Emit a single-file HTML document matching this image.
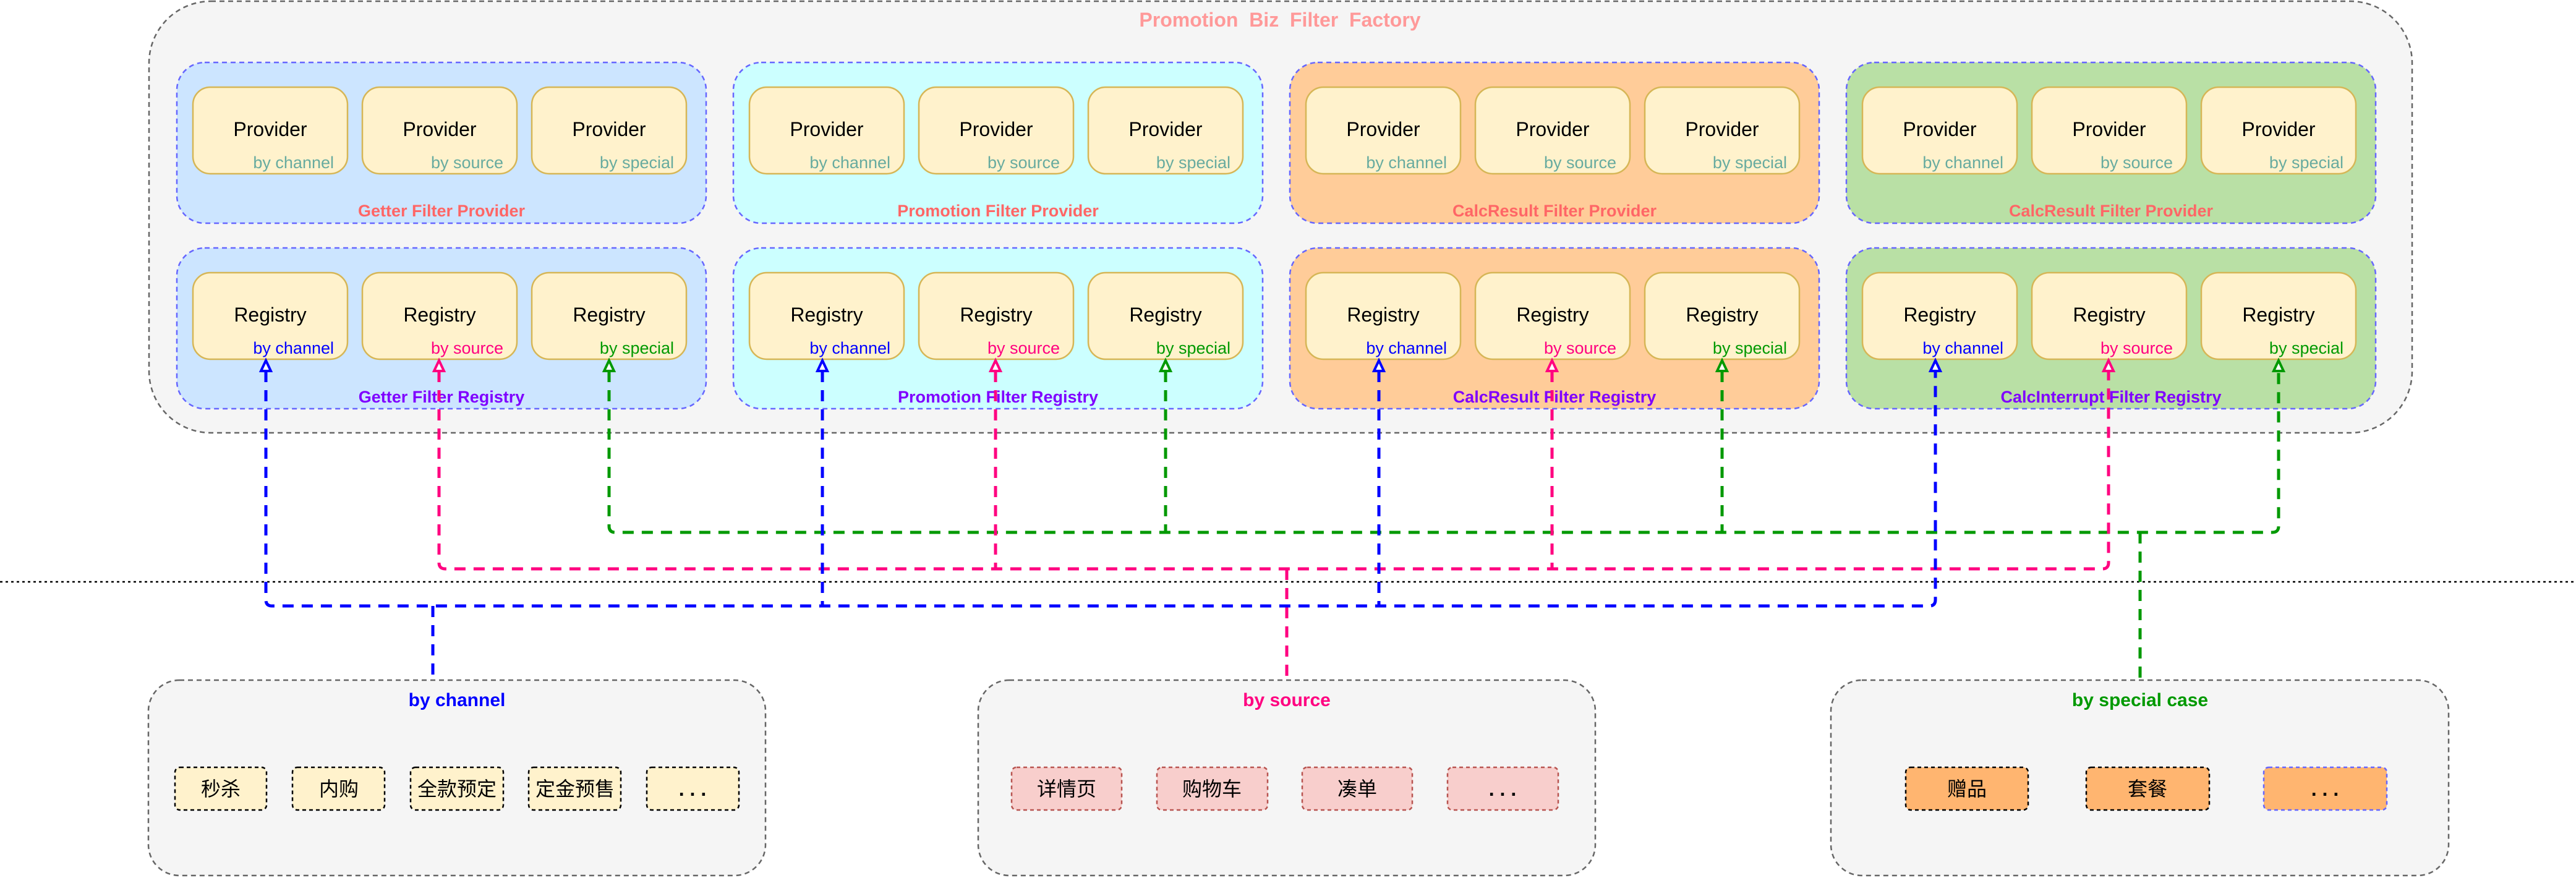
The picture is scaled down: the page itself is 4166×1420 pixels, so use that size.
<!DOCTYPE html>
<html><head><meta charset="utf-8"><style>
html,body{margin:0;padding:0;background:#fff;}
svg{display:block;}
text{font-family:"Liberation Sans","Noto Sans CJK SC",sans-serif;}
.m{font-size:32px;fill:#000;text-anchor:middle;}
.bp{font-size:27px;fill:#67AB9F;text-anchor:end;}
.gl{font-size:27px;font-weight:bold;text-anchor:middle;}
.box{fill:#fff2cc;stroke:#d6b656;stroke-width:2.5;}
.grp{stroke:#6666ff;stroke-width:2.5;stroke-dasharray:8 6;}
.cj{font-size:32px;fill:#000;text-anchor:middle;}
</style></head><body>
<svg width="4166" height="1420" viewBox="0 0 4166 1420" xmlns="http://www.w3.org/2000/svg">
<rect x="241" y="2" width="3660" height="698" rx="100" fill="#f5f5f5" stroke="#666" stroke-width="2.5" stroke-dasharray="8 6"/>
<text x="2070" y="43" font-size="32" font-weight="bold" fill="#ff9999" text-anchor="middle" xml:space="preserve">Promotion  Biz  Filter  Factory</text>

<rect class="grp" x="286" y="101" width="856" height="260" rx="45" fill="#cce5ff"/>
<rect class="grp" x="286" y="401" width="856" height="260" rx="45" fill="#cce5ff"/>
<rect class="grp" x="1186" y="101" width="856" height="260" rx="45" fill="#ccffff"/>
<rect class="grp" x="1186" y="401" width="856" height="260" rx="45" fill="#ccffff"/>
<rect class="grp" x="2086" y="101" width="856" height="260" rx="45" fill="#ffcc99"/>
<rect class="grp" x="2086" y="401" width="856" height="260" rx="45" fill="#ffcc99"/>
<rect class="grp" x="2986" y="101" width="856" height="260" rx="45" fill="#b9e0a5"/>
<rect class="grp" x="2986" y="401" width="856" height="260" rx="45" fill="#b9e0a5"/>

<g>
<rect class="box" x="312" y="141" width="250" height="140" rx="28"/><rect class="box" x="586" y="141" width="250" height="140" rx="28"/><rect class="box" x="860" y="141" width="250" height="140" rx="28"/>
<rect class="box" x="1212" y="141" width="250" height="140" rx="28"/><rect class="box" x="1486" y="141" width="250" height="140" rx="28"/><rect class="box" x="1760" y="141" width="250" height="140" rx="28"/>
<rect class="box" x="2112" y="141" width="250" height="140" rx="28"/><rect class="box" x="2386" y="141" width="250" height="140" rx="28"/><rect class="box" x="2660" y="141" width="250" height="140" rx="28"/>
<rect class="box" x="3012" y="141" width="250" height="140" rx="28"/><rect class="box" x="3286" y="141" width="250" height="140" rx="28"/><rect class="box" x="3560" y="141" width="250" height="140" rx="28"/>
</g>
<g>
<rect class="box" x="312" y="441" width="250" height="140" rx="28"/><rect class="box" x="586" y="441" width="250" height="140" rx="28"/><rect class="box" x="860" y="441" width="250" height="140" rx="28"/>
<rect class="box" x="1212" y="441" width="250" height="140" rx="28"/><rect class="box" x="1486" y="441" width="250" height="140" rx="28"/><rect class="box" x="1760" y="441" width="250" height="140" rx="28"/>
<rect class="box" x="2112" y="441" width="250" height="140" rx="28"/><rect class="box" x="2386" y="441" width="250" height="140" rx="28"/><rect class="box" x="2660" y="441" width="250" height="140" rx="28"/>
<rect class="box" x="3012" y="441" width="250" height="140" rx="28"/><rect class="box" x="3286" y="441" width="250" height="140" rx="28"/><rect class="box" x="3560" y="441" width="250" height="140" rx="28"/>
</g>

<g class="m">
<text class="m" x="437" y="220">Provider</text><text class="m" x="711" y="220">Provider</text><text class="m" x="985" y="220">Provider</text>
<text class="m" x="1337" y="220">Provider</text><text class="m" x="1611" y="220">Provider</text><text class="m" x="1885" y="220">Provider</text>
<text class="m" x="2237" y="220">Provider</text><text class="m" x="2511" y="220">Provider</text><text class="m" x="2785" y="220">Provider</text>
<text class="m" x="3137" y="220">Provider</text><text class="m" x="3411" y="220">Provider</text><text class="m" x="3685" y="220">Provider</text>
<text class="m" x="437" y="520">Registry</text><text class="m" x="711" y="520">Registry</text><text class="m" x="985" y="520">Registry</text>
<text class="m" x="1337" y="520">Registry</text><text class="m" x="1611" y="520">Registry</text><text class="m" x="1885" y="520">Registry</text>
<text class="m" x="2237" y="520">Registry</text><text class="m" x="2511" y="520">Registry</text><text class="m" x="2785" y="520">Registry</text>
<text class="m" x="3137" y="520">Registry</text><text class="m" x="3411" y="520">Registry</text><text class="m" x="3685" y="520">Registry</text>
</g>
<g>
<text class="bp" x="540" y="272">by channel</text><text class="bp" x="814" y="272">by source</text><text class="bp" x="1090" y="272">by special</text>
<text class="bp" x="1440" y="272">by channel</text><text class="bp" x="1714" y="272">by source</text><text class="bp" x="1990" y="272">by special</text>
<text class="bp" x="2340" y="272">by channel</text><text class="bp" x="2614" y="272">by source</text><text class="bp" x="2890" y="272">by special</text>
<text class="bp" x="3240" y="272">by channel</text><text class="bp" x="3514" y="272">by source</text><text class="bp" x="3790" y="272">by special</text>
<text class="bp" x="540" y="572" style="fill:#0000ff">by channel</text><text class="bp" x="814" y="572" style="fill:#ff0080">by source</text><text class="bp" x="1090" y="572" style="fill:#009900">by special</text>
<text class="bp" x="1440" y="572" style="fill:#0000ff">by channel</text><text class="bp" x="1714" y="572" style="fill:#ff0080">by source</text><text class="bp" x="1990" y="572" style="fill:#009900">by special</text>
<text class="bp" x="2340" y="572" style="fill:#0000ff">by channel</text><text class="bp" x="2614" y="572" style="fill:#ff0080">by source</text><text class="bp" x="2890" y="572" style="fill:#009900">by special</text>
<text class="bp" x="3240" y="572" style="fill:#0000ff">by channel</text><text class="bp" x="3514" y="572" style="fill:#ff0080">by source</text><text class="bp" x="3790" y="572" style="fill:#009900">by special</text>
</g>
<g>
<text class="gl" x="714" y="350" fill="#ff6666">Getter Filter Provider</text>
<text class="gl" x="1614" y="350" fill="#ff6666">Promotion Filter Provider</text>
<text class="gl" x="2514" y="350" fill="#ff6666">CalcResult Filter Provider</text>
<text class="gl" x="3414" y="350" fill="#ff6666">CalcResult Filter Provider</text>
<text class="gl" x="714" y="651" fill="#7f00ff">Getter Filter Registry</text>
<text class="gl" x="1614" y="651" fill="#7f00ff">Promotion Filter Registry</text>
<text class="gl" x="2514" y="651" fill="#7f00ff">CalcResult Filter Registry</text>
<text class="gl" x="3414" y="651" fill="#7f00ff">CalcInterrupt Filter Registry</text>
</g>

<line x1="0" y1="941" x2="4166" y2="941" stroke="#000" stroke-width="2.5" stroke-dasharray="4 5"/>

<g fill="none" stroke-width="5" stroke-dasharray="18 13">
<path stroke="#009900" d="M985 600 V851 Q985 861 995 861 H3675 Q3685 861 3685 851 V600 M1885 600 V861 M2785 600 V861 M3461 861 V1100"/>
<path stroke="#ff0080" d="M710 600 V910 Q710 920 720 920 H3400 Q3410 920 3410 910 V600 M1610 600 V920 M2510 600 V920 M2081 920 V1100"/>
<path stroke="#0000ff" d="M430 600 V970 Q430 980 440 980 H3120 Q3130 980 3130 970 V600 M1330 600 V980 M2230 600 V980 M700 980 V1100"/>
</g>
<g fill="#fff" stroke-width="4">
<polygon stroke="#0000ff" points="430,583 422,600 438,600"/><polygon stroke="#0000ff" points="1330,583 1322,600 1338,600"/><polygon stroke="#0000ff" points="2230,583 2222,600 2238,600"/><polygon stroke="#0000ff" points="3130,583 3122,600 3138,600"/>
<polygon stroke="#ff0080" points="710,583 702,600 718,600"/><polygon stroke="#ff0080" points="1610,583 1602,600 1618,600"/><polygon stroke="#ff0080" points="2510,583 2502,600 2518,600"/><polygon stroke="#ff0080" points="3410,583 3402,600 3418,600"/>
<polygon stroke="#009900" points="985,583 977,600 993,600"/><polygon stroke="#009900" points="1885,583 1877,600 1893,600"/><polygon stroke="#009900" points="2785,583 2777,600 2793,600"/><polygon stroke="#009900" points="3685,583 3677,600 3693,600"/>
</g>

<rect x="240" y="1100" width="998" height="316" rx="50" fill="#f5f5f5" stroke="#666" stroke-width="2.5" stroke-dasharray="8 6"/>
<rect x="1582" y="1100" width="998" height="316" rx="50" fill="#f5f5f5" stroke="#666" stroke-width="2.5" stroke-dasharray="8 6"/>
<rect x="2961" y="1100" width="999" height="316" rx="50" fill="#f5f5f5" stroke="#666" stroke-width="2.5" stroke-dasharray="8 6"/>
<text x="739" y="1142" font-size="30" font-weight="bold" fill="#0000ff" text-anchor="middle">by channel</text>
<text x="2081" y="1142" font-size="30" font-weight="bold" fill="#ff0080" text-anchor="middle">by source</text>
<text x="3461" y="1142" font-size="30" font-weight="bold" fill="#009900" text-anchor="middle">by special case</text>

<g stroke="#000" stroke-width="2.5" stroke-dasharray="6 5" fill="#fff2cc">
<rect x="283" y="1241" width="148" height="69" rx="8"/>
<rect x="473" y="1241" width="149" height="69" rx="8"/>
<rect x="664" y="1241" width="150" height="69" rx="8"/>
<rect x="855" y="1241" width="149" height="69" rx="8"/>
<rect x="1046" y="1241" width="149" height="69" rx="8"/>
</g>
<g stroke="#b85450" stroke-width="2.5" stroke-dasharray="6 5" fill="#f8cecc">
<rect x="1636" y="1241" width="178" height="69" rx="8"/>
<rect x="1871" y="1241" width="179" height="69" rx="8"/>
<rect x="2106" y="1241" width="178" height="69" rx="8"/>
<rect x="2341" y="1241" width="179" height="69" rx="8"/>
</g>
<g stroke-width="2.5" stroke-dasharray="6 5" fill="#ffb570">
<rect x="3082" y="1241" width="198" height="69" rx="8" stroke="#000"/>
<rect x="3374" y="1241" width="199" height="69" rx="8" stroke="#000"/>
<rect x="3661" y="1241" width="199" height="69" rx="8" stroke="#6666ff"/>
</g>
<g>
<text class="cj" x="357" y="1287">秒杀</text>
<text class="cj" x="548" y="1287">内购</text>
<text class="cj" x="739" y="1287">全款预定</text>
<text class="cj" x="930" y="1287">定金预售</text>
<text class="cj" x="1120" y="1287" font-weight="bold">. . .</text>
<text class="cj" x="1725" y="1287">详情页</text>
<text class="cj" x="1960" y="1287">购物车</text>
<text class="cj" x="2195" y="1287">凑单</text>
<text class="cj" x="2430" y="1287" font-weight="bold">. . .</text>
<text class="cj" x="3181" y="1287">赠品</text>
<text class="cj" x="3473" y="1287">套餐</text>
<text class="cj" x="3760" y="1287" font-weight="bold">.  .  .</text>
</g>
</svg>
</body></html>
